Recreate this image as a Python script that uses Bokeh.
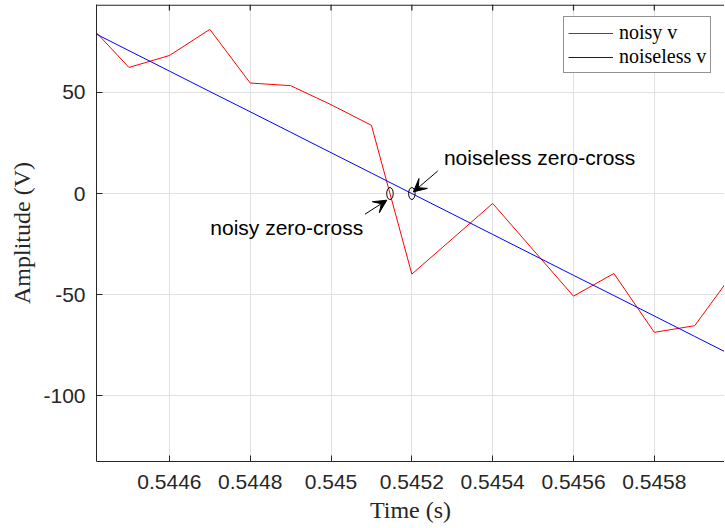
import numpy as np
from bokeh.plotting import figure
from bokeh.models import (Range1d, FixedTicker, Legend, LegendItem,
                          Arrow, VeeHead, Label, Span)
from bokeh.embed import file_html
from bokeh.resources import INLINE

# ---------------- data ----------------
time_s = [0.5444, 0.5445, 0.5446, 0.5447, 0.5448, 0.5449, 0.5450, 0.5451, 0.5452,
          0.5453, 0.5454, 0.5455, 0.5456, 0.5457, 0.5458, 0.5459, 0.5460]
noisy_v = [83.6, 62.3, 68.2, 81.1, 54.6, 53.3, 43.9, 33.7, -39.8,
           -22.4, -4.9, -27.8, -50.7, -39.5, -68.6, -65.3, -38.0]
noiseless_v = [80.7, 70.6, 60.5, 50.4, 40.4, 30.3, 20.2, 10.1, 0.0,
               -10.1, -20.2, -30.3, -40.4, -50.4, -60.5, -70.6, -80.7]

x_ticks = [0.5446, 0.5448, 0.5450, 0.5452, 0.5454, 0.5456, 0.5458]
x_tick_labels = ["0.5446", "0.5448", "0.545", "0.5452", "0.5454", "0.5456", "0.5458"]
y_ticks = [-100, -50, 0, 50]
y_tick_labels = ["-100", "-50", "0", "50"]

x_limits = (0.5444196, 0.5459737)
y_limits = (-132.4, 93.4)

# annotation anchor points (data units)
noisy_text_pos = (0.5447013, -17.0)
noiseless_text_pos = (0.5452794, 18.0)
noisy_arrow = (0.545084, -10.2, 0.545138, -3.3)
noiseless_arrow = (0.5452639, 11.1, 0.5452036, 0.8)


def zero_cross(t, v):
    t = np.asarray(t); v = np.asarray(v)
    i = np.where(np.sign(v[:-1]) != np.sign(v[1:]))[0][0]
    if v[i] == 0:
        return t[i]
    if v[i + 1] == 0:
        return t[i + 1]
    return t[i] + (t[i + 1] - t[i]) * v[i] / (v[i] - v[i + 1])


cross_noisy = zero_cross(time_s, noisy_v)
cross_clean = zero_cross(time_s, noiseless_v)

# ---------------- figure ----------------
AX = "#262626"
GRID = "#e0e0e0"
SANS = "Liberation Sans"
SERIF = "Liberation Serif"
FRAME_H = 457
TICK_LEN = 6

p = figure(frame_width=628, frame_height=FRAME_H, output_backend="svg",
           toolbar_location=None, x_range=Range1d(*x_limits),
           y_range=Range1d(*y_limits), min_border_left=96, min_border_right=0,
           min_border_top=4, background_fill_color="white",
           border_fill_color="white")
p.outline_line_color = None

# grid
p.xgrid.ticker = FixedTicker(ticks=x_ticks)
p.ygrid.ticker = FixedTicker(ticks=y_ticks)
for g in (p.xgrid, p.ygrid):
    g.grid_line_color = GRID
    g.grid_line_width = 1

xa = p.xaxis[0]
ya = p.yaxis[0]
xa.ticker = FixedTicker(ticks=x_ticks)
ya.ticker = FixedTicker(ticks=y_ticks)
xa.major_label_overrides = {t: s for t, s in zip(x_ticks, x_tick_labels)}
ya.major_label_overrides = {t: s for t, s in zip(y_ticks, y_tick_labels)}
for ax in (xa, ya):
    ax.axis_line_color = AX
    ax.major_tick_line_color = AX
    ax.major_tick_in = TICK_LEN
    ax.major_tick_out = 0
    ax.minor_tick_line_color = None
    ax.major_label_text_font = SANS
    ax.major_label_text_font_size = "21px"
    ax.major_label_text_color = AX
    ax.axis_label_text_font = SERIF
    ax.axis_label_text_font_size = "24px"
    ax.axis_label_text_font_style = "normal"
    ax.axis_label_text_color = AX
xa.axis_label = "Time (s)"
ya.axis_label = "Amplitude (V)"
xa.major_label_standoff = 13
xa.axis_label_standoff = 5
ya.major_label_standoff = 11
ya.axis_label_standoff = 5

# top box edge with inward ticks (no labels), drawn just inside the frame
px_data = (y_limits[1] - y_limits[0]) / FRAME_H
p.add_layout(Span(location=y_limits[1] - 0.6 * px_data, dimension="width",
                  line_color=AX, line_width=1.2))
p.segment(x0=x_ticks, y0=[y_limits[1]] * len(x_ticks), x1=x_ticks,
          y1=[y_limits[1] - TICK_LEN * px_data] * len(x_ticks),
          line_color=AX, line_width=1.2)

# lines
r_noisy = p.line(time_s, noisy_v, line_color="#ff0000", line_width=1)
r_clean = p.line(time_s, noiseless_v, line_color="#0000ff", line_width=1)

# zero-cross markers
p.ellipse(x=[cross_noisy, cross_clean], y=[0, 0], width=6.5, height=12,
          width_units="screen", height_units="screen",
          fill_color=None, line_color="black", line_width=1)

# arrows
for (xs, ys, xe, ye) in (noisy_arrow, noiseless_arrow):
    p.add_layout(Arrow(end=VeeHead(size=13, fill_color="black", line_color="black",
                                   line_width=1),
                       x_start=xs, y_start=ys, x_end=xe, y_end=ye,
                       line_color="black", line_width=1))

p.add_layout(Label(x=noisy_text_pos[0], y=noisy_text_pos[1], text="noisy zero-cross",
                   text_font=SANS, text_font_size="21px", text_color="black",
                   text_baseline="alphabetic"))
p.add_layout(Label(x=noiseless_text_pos[0], y=noiseless_text_pos[1],
                   text="noiseless zero-cross", text_font=SANS,
                   text_font_size="21px", text_color="black",
                   text_baseline="alphabetic"))

legend = Legend(items=[LegendItem(label="noisy v", renderers=[r_noisy]),
                       LegendItem(label="noiseless v", renderers=[r_clean])],
                location=(467, 388), padding=4, spacing=1,
                glyph_width=45, glyph_height=20, label_height=20,
                label_standoff=6, label_text_font=SERIF,
                label_text_font_size="20px", label_text_color="black",
                border_line_color=AX, border_line_width=1,
                background_fill_color="white", background_fill_alpha=1)
p.add_layout(legend)

open("out.html", "w").write(file_html(p, INLINE))
